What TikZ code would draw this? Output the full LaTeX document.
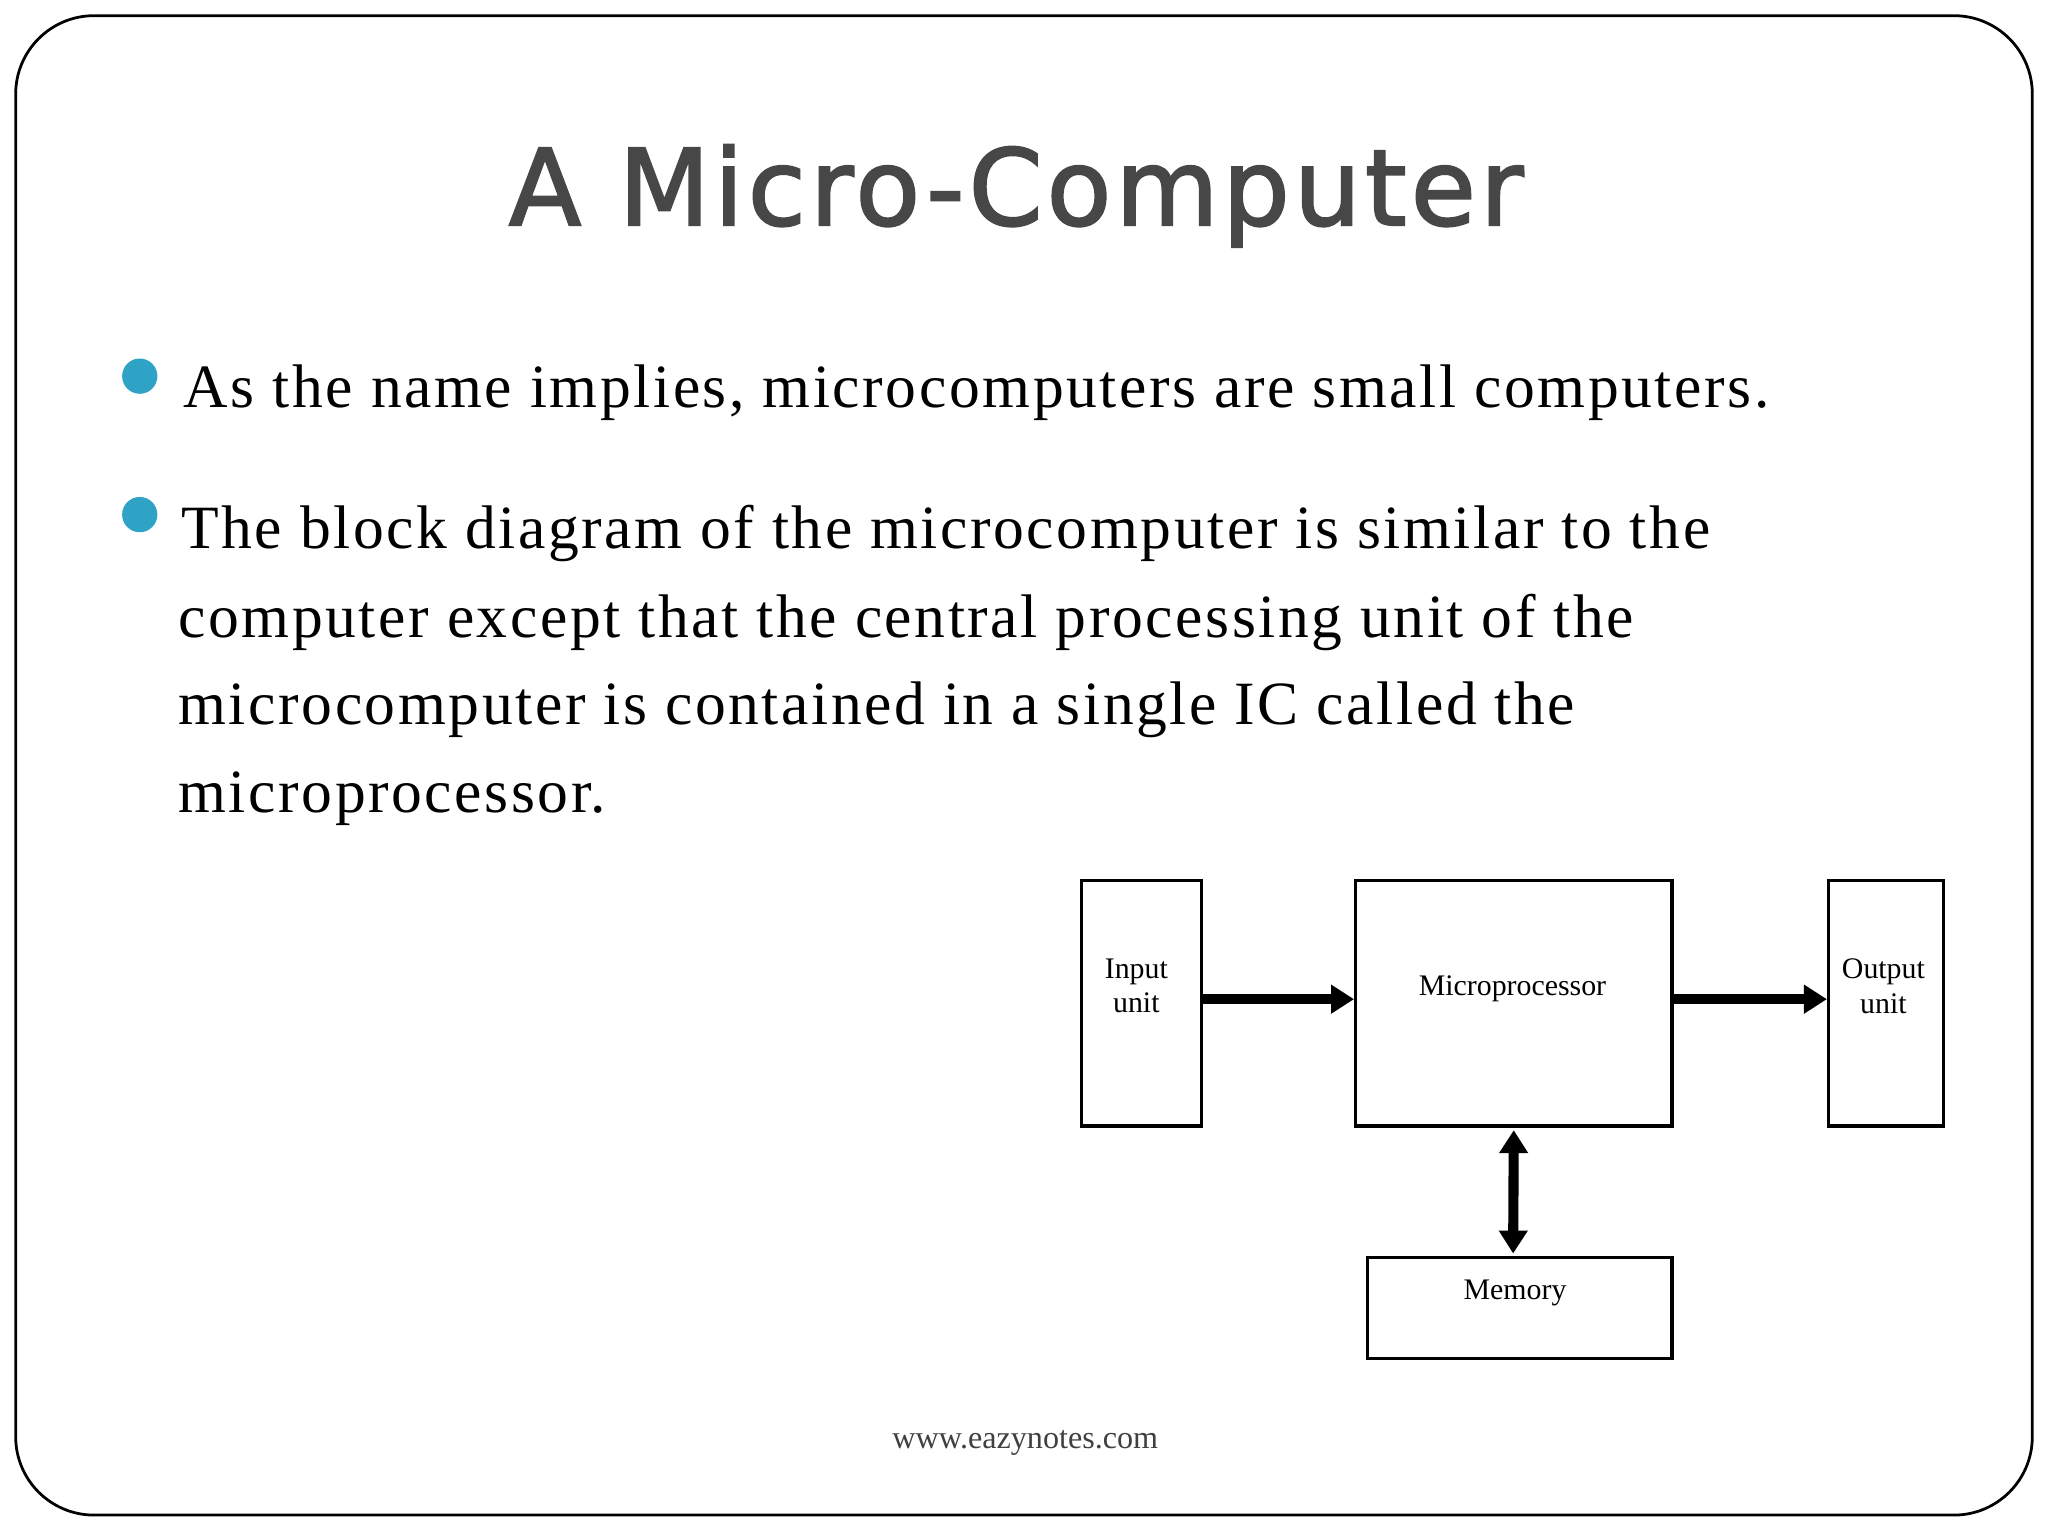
\documentclass[tikz,border=0pt]{standalone}
\usepackage{fontspec}
\setmainfont{Liberation Serif}
\newfontfamily\bodyfont[LetterSpace=4.2]{Liberation Serif}
\newfontfamily\titlefont[FakeBold=2,LetterSpace=4]{DejaVu Sans}
\definecolor{bulc}{HTML}{2FA3C6}
\usetikzlibrary{arrows.meta}
\begin{document}
\begin{tikzpicture}[x=0.01cm,y=-0.01cm,
  blk/.style={draw,line width=0.7pt,inner sep=0pt},
  lbl/.style={font=\fontsize{6.5}{7.5}\selectfont,align=center},
  body/.style={anchor=base west,font=\bodyfont\fontsize{13.4}{15}\selectfont,inner sep=0pt},
  bul/.style={fill=bulc,draw=none,circle,minimum size=0.27cm,inner sep=0pt},
  arr/.style={line width=2.2pt,-{Triangle[length=5pt,width=6pt]}}]
\useasboundingbox (0,0) rectangle (1568,1176);
\draw[line width=0.6pt,rounded corners=0.6cm] (12,12) rectangle (1556,1160);
\node[font=\titlefont\fontsize{23}{28}\selectfont,text=black!72] (title) at (778,150) {A Micro-Computer};
\node[bul] (b1) at (107,288) {};
\node[bul] (b2) at (107,394) {};
\node[body] (t1) at (140,312) {As the name implies, microcomputers are small computers.};
\node[body] (t2) at (138,420) {The block diagram of the microcomputer is similar to the};
\node[body] (t3) at (136,488) {computer except that the central processing unit of the};
\node[body] (t4) at (136,555) {microcomputer is contained in a single IC called the};
\node[body] (t5) at (136,622) {microprocessor.};
\node[blk,minimum width=0.92cm,minimum height=1.88cm] (in) at (874,768) {};
\node[lbl] at (870,755) {Input\\unit};
\node[blk,minimum width=2.42cm,minimum height=1.88cm] (mp) at (1159,768) {};
\node[lbl] at (1158,757) {Microprocessor};
\node[blk,minimum width=0.88cm,minimum height=1.88cm] (out) at (1444,768) {};
\node[lbl] at (1442,755) {Output\\unit};
\node[blk,minimum width=2.33cm,minimum height=0.77cm] (mem) at (1163.5,1001.5) {};
\node[lbl] at (1160,990) {Memory};
\draw[arr] ([yshift=0.03cm]in.east) -- ([yshift=0.03cm]mp.west);
\draw[arr] ([yshift=0.03cm]mp.east) -- ([yshift=0.03cm]out.west);
\draw[line width=2.2pt,{Triangle[length=5pt,width=6pt]}-{Triangle[length=5pt,width=6pt]}] ([yshift=-0.02cm]mp.south) -- ([xshift=-0.05cm,yshift=0.02cm]mem.north);
\node[font=\fontsize{7}{8}\selectfont,text=black!75] (foot) at (785,1105) {www.eazynotes.com};
\end{tikzpicture}
\end{document}
